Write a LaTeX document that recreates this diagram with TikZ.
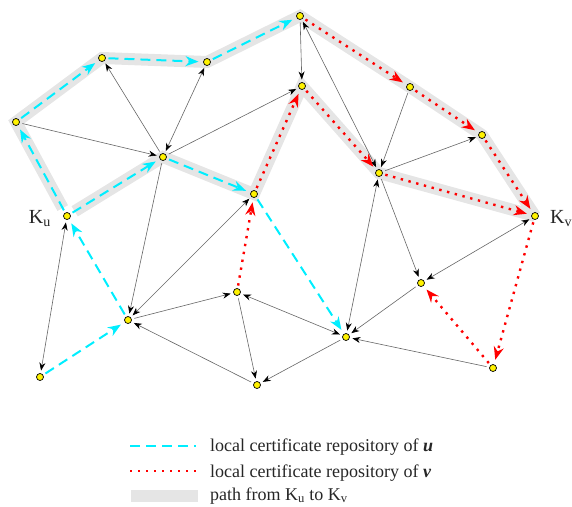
\documentclass[tikz,border=0pt]{standalone}
\usepackage{fontspec}
\setmainfont{Liberation Serif}
\usetikzlibrary{arrows.meta,positioning,backgrounds}
\definecolor{certcyan}{RGB}{0,238,255}
\definecolor{certred}{RGB}{255,0,0}

\begin{document}
\begin{tikzpicture}[x=1pt, y=-1pt, >={Stealth[length=8pt,width=6pt,color=black]}]
	\tikzstyle{cert}=[circle, draw=black, fill=yellow, line width=0.7pt,
		inner sep=0pt, minimum size=7pt, outer sep=3pt]
	\tikzstyle{link}=[line width=0.6pt, draw=black!60]
	\tikzstyle{upath}=[line width=2pt, draw=certcyan, dash pattern=on 10pt off 6pt,
		shorten >=2pt, >={Stealth[length=13pt,width=10pt]}]
	\tikzstyle{vpath}=[line width=2.4pt, draw=certred, dash pattern=on 2.4pt off 5.6pt,
		shorten >=2pt, >={Stealth[length=13pt,width=10pt]}]
	\tikzstyle{trail}=[line width=12pt, draw=black!10]
	\tikzstyle{key}=[font=\fontsize{20}{22}\selectfont, text=black!85]
	\tikzstyle{legend}=[font=\fontsize{18}{20}\selectfont, text=black!85, inner sep=0pt]
	\useasboundingbox (0,0) rectangle (572,506);
	% % Nodes
	\node[cert] (a) at (16,122) {};
	\node[cert] (b) at (102,58) {};
	\node[cert] (c) at (207,62) {};
	\node[cert] (d) at (300,16) {};
	\node[cert] (e) at (163,157) {};
	\node[cert] (ku) at (67,216) {};
	\node[cert] (g) at (254,194) {};
	\node[cert] (h) at (302,86) {};
	\node[cert] (i) at (410,87) {};
	\node[cert] (j) at (482,135) {};
	\node[cert] (k) at (379,173) {};
	\node[cert] (kv) at (535,216) {};
	\node[cert] (m) at (128,320) {};
	\node[cert] (n) at (40,377) {};
	\node[cert] (o) at (237,292) {};
	\node[cert] (p) at (257,385) {};
	\node[cert] (q) at (346,337) {};
	\node[cert] (r) at (421,283) {};
	\node[cert] (s) at (493,368) {};
	% key labels
	\node[key, anchor=base east, inner sep=0pt] (kulabel) at (51,223) {K\textsubscript{u}};
	\node[key, anchor=base west, inner sep=0pt] (kvlabel) at (550,223) {K\textsubscript{v}};
	% % Path from Ku to Kv
	\begin{pgfonlayer}{background}
		\draw[trail, shorten <=9pt] (ku.center) -- (a.center) -- (b.center) -- (c.center)
			-- (d.center) -- (i.center) -- (j.center) -- (kv.center);
		\draw[trail, shorten <=9pt] (ku.center) -- (e.center) -- (g.center) -- (h.center)
			-- (k.center) -- (kv.center);
	\end{pgfonlayer}
	% % Connectors
	\draw[link, ->] (e) -- (b);
	\draw[link, <->] (c) -- (e);
	\draw[link, ->] (a) -- (e);
	\draw[link, ->] (e) -- (h);
	\draw[link, ->] (e) -- (m);
	\draw[link, ->] (d) -- (h);
	\draw[link, <->] (d) -- (k);
	\draw[link, ->] (i) -- (k);
	\draw[link, ->] (k) -- (j);
	\draw[link, <->] (m) -- (g);
	\draw[link, <->] (ku) -- (n);
	\draw[link, ->] (m) -- (o);
	\draw[link, <->] (o) -- (q);
	\draw[link, ->] (o) -- (p);
	\draw[link, ->] (q) -- (p);
	\draw[link, ->] (p) -- (m);
	\draw[link, <->] (q) -- (k);
	\draw[link, ->] (k) -- (r);
	\draw[link, <->] (r) -- (kv);
	\draw[link, ->] (r) -- (q);
	\draw[link, ->] (s) -- (q);
	% repository of u
	\draw[upath, ->] (ku) -- (a);
	\draw[upath, ->] (a) -- (b);
	\draw[upath, ->] (b) -- (c);
	\draw[upath, ->] (c) -- (d);
	\draw[upath, ->] (ku) -- (e);
	\draw[upath, ->] (e) -- (g);
	\draw[upath, ->] (g) -- (q);
	\draw[upath, ->] (n) -- (m);
	\draw[upath, ->] (m) -- (ku);
	% repository of v
	\draw[vpath, ->] (d) -- (i);
	\draw[vpath, ->] (i) -- (j);
	\draw[vpath, ->] (j) -- (kv);
	\draw[vpath, ->] (g) -- (h);
	\draw[vpath, ->] (h) -- (k);
	\draw[vpath, ->] (k) -- (kv);
	\draw[vpath, ->] (o) -- (g);
	\draw[vpath, ->] (kv) -- (s);
	\draw[vpath, ->] (s) -- (r);
	% % Legend
	\coordinate (lu1) at (130,446);
	\coordinate (lu2) at (196,446);
	\coordinate (lv1) at (130,471);
	\coordinate (lv2) at (196,471);
	\coordinate (lp1) at (131,496);
	\coordinate (lp2) at (198,496);
	\draw[upath, shorten >=0pt] (lu1) -- (lu2);
	\draw[vpath, shorten >=0pt] (lv1) -- (lv2);
	\draw[trail] (lp1) -- (lp2);
	\node[legend, anchor=base west] (lutext) at (210,451)
		{local certificate repository of \textbf{\textit{u}}};
	\node[legend, anchor=base west] (lvtext) at (210,477)
		{local certificate repository of \textbf{\textit{v}}};
	\node[legend, anchor=base west] (lptext) at (210,500)
		{path from K\textsubscript{u} to K\textsubscript{v}};
\end{tikzpicture}
\end{document}
